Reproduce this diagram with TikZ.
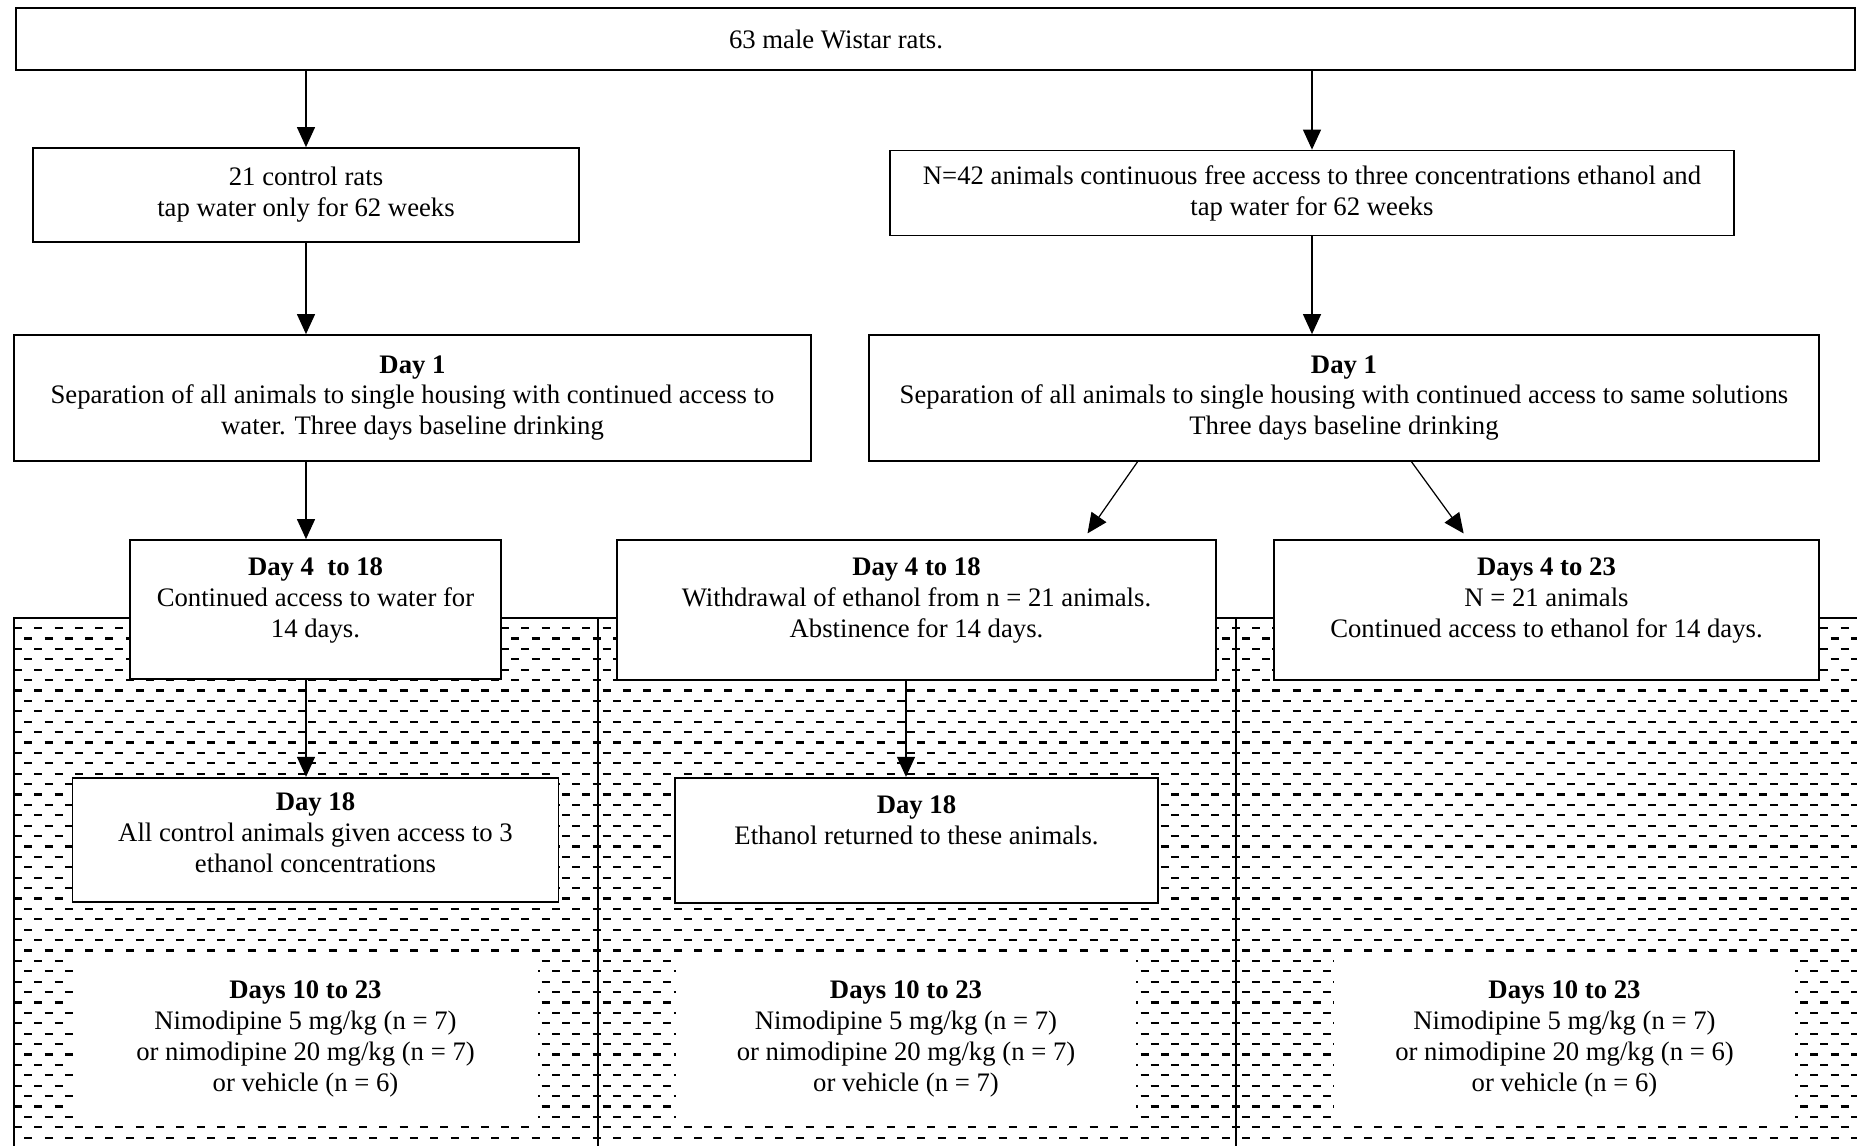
\documentclass[tikz,border=0pt]{standalone}
\usepackage{fontspec}
\setmainfont{Liberation Serif}
\usepackage{tikz}
\usetikzlibrary{calc}
\usetikzlibrary{positioning}
\usetikzlibrary{arrows.meta}

\begin{document}
\begin{tikzpicture}[x=0.02cm, y=-0.02cm,
    every node/.style={font=\fontsize{15.2}{17.6}\selectfont},
    box/.style={draw, line width=1pt, fill=white, align=center, inner sep=0pt},
    dose/.style={fill=white, align=center, inner sep=0pt},
    arr/.style={line width=0.7pt, -{Triangle[length=4mm, width=3.6mm]}},
    hatch/.style={line width=1.25pt, dash pattern=on 0.16cm off 0.246cm}]

                \def\px{0.02cm}

                % Size of the page
                \useasboundingbox (0,0) rectangle (1857,1146);

                % Hatched panels behind the lower boxes
                \begin{scope}
                    \clip (14,618) rectangle (1857,1146);
                    \foreach \row in {0,2,...,50} {
                        \draw[hatch] (14,628+\row*10.4) -- (1857,628+\row*10.4);
                        \draw[hatch, dash phase=0.2cm] (14,638.4+\row*10.4) -- (1857,638.4+\row*10.4);
                    }
                \end{scope}
                \draw[line width=1pt] (14,618) rectangle (1870,1160);
                \draw[line width=1pt] (598,618) -- (598,1160);
                \draw[line width=1pt] (1236,618) -- (1236,1160);

                \node[box, minimum width=1839*\px, minimum height=62*\px] (rats) at (935.5,39) {};
                \node (ratstxt) at (836,39) {63 male Wistar rats.};

                \node[box, minimum width=546*\px, minimum height=94*\px] (ctrl) at (306,195)
                {21 control rats\\tap water only for 62 weeks};
                \node[box, minimum width=844*\px, minimum height=85*\px] (etoh) at (1312,193)
                {N=42 animals continuous free access to three concentrations ethanol and\\tap water for 62 weeks};

                \node[box, minimum width=797*\px, minimum height=126*\px] (dayL) at (412.5,398)
                {\textbf{Day 1}\\Separation of all animals to single housing with continued access to\\water. Three days baseline drinking};
                \node[box, minimum width=950*\px, minimum height=126*\px] (dayR) at (1344,398)
                {\textbf{Day 1}\\Separation of all animals to single housing with continued access to same solutions\\Three days baseline drinking};

                \node[box, minimum width=371*\px, minimum height=139*\px] (ctrlA) at (315.5,609.5)
                {\textbf{Day 4\ \ to 18}\\Continued access to water for\\14 days.\\[-9pt]\strut};
                \node[box, minimum width=599*\px, minimum height=140*\px] (wdrA) at (916.5,610)
                {\textbf{Day 4 to 18}\\Withdrawal of ethanol from n = 21 animals.\\Abstinence for 14 days.\\[-9pt]\strut};
                \node[box, minimum width=545*\px, minimum height=140*\px] (contA) at (1546.5,610)
                {\textbf{Days 4 to 23}\\N = 21 animals\\Continued access to ethanol for 14 days.\\[-9pt]\strut};

                \node[box, minimum width=486*\px, minimum height=124*\px, below=1.94cm of ctrlA] (ctrlB)
                {\textbf{Day 18}\\All control animals given access to 3\\ethanol concentrations\\[-15pt]\strut};
                \node[box, minimum width=483*\px, minimum height=125*\px, below=1.92cm of wdrA] (wdrB)
                {\textbf{Day 18}\\Ethanol returned to these animals.\\ \strut};

                \node[dose, minimum width=465*\px, minimum height=161*\px] (ctrlC) at (305.5,1039)
                {\textbf{Days 10 to 23}\\Nimodipine 5 mg/kg (n = 7)\\or nimodipine 20 mg/kg (n = 7)\\or vehicle (n = 6)};
                \node[dose, minimum width=460*\px, minimum height=161*\px] (wdrC) at (906,1039)
                {\textbf{Days 10 to 23}\\Nimodipine 5 mg/kg (n = 7)\\or nimodipine 20 mg/kg (n = 7)\\or vehicle (n = 7)};
                \node[dose, minimum width=461*\px, minimum height=161*\px] (contC) at (1564.5,1039)
                {\textbf{Days 10 to 23}\\Nimodipine 5 mg/kg (n = 7)\\or nimodipine 20 mg/kg (n = 6)\\or vehicle (n = 6)};

                \begin{scope}
                    \draw[arr] (rats.south -| ctrl.north) -- (ctrl.north);
                    \draw[arr] (rats.south -| etoh.north) -- (etoh.north);
                    \draw[arr] (ctrl.south) -- (ctrl.south |- dayL.north);
                    \draw[arr] (etoh.south) -- (etoh.south |- dayR.north);
                    \draw[arr] (dayL.south -| ctrl.south) -- (ctrlA.north -| ctrl.south);
                    \draw[arr, shorten >=0.14cm] ($(dayR.south west)!0.283!(dayR.south east)$)
                        -- ($(wdrA.north west)!0.778!(wdrA.north east)$);
                    \draw[arr, shorten >=0.14cm] ($(dayR.south west)!0.571!(dayR.south east)$)
                        -- ($(contA.north west)!0.356!(contA.north east)$);
                    \draw[arr] (ctrlA.south -| ctrl.south) -- (ctrlB.north -| ctrl.south);
                    \draw[arr] (wdrA.south -| wdrC.north) -- (wdrB.north -| wdrC.north);
                \end{scope}

\end{tikzpicture}
\end{document}
